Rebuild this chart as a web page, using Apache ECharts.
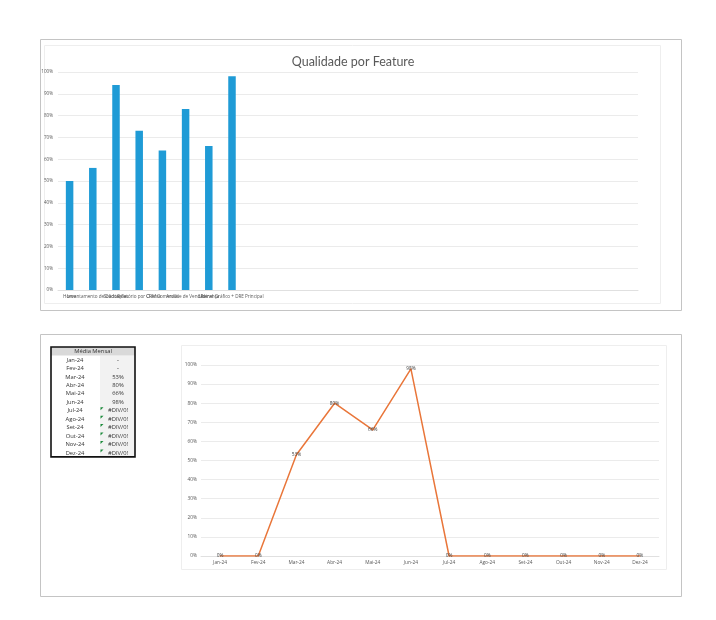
<!DOCTYPE html>
<html>
<head>
<meta charset="utf-8">
<script src="https://cdn.jsdelivr.net/npm/echarts@6/dist/echarts.min.js"></script>
<style>
html,body{margin:0;padding:0;background:#fff;}
#c{width:716px;height:620px;}
</style>
</head>
<body>
<div id="c"></div>
<script>
// ---- Data ----
const featureCategories = [
  "Home", "Levantamento de Dados", "Solicitações", "Relatório por Cliente",
  "CRM Comercial", "Análise de Vendas", "Liderança", "Painel Gráfico + DRE Principal",
  "", "", "", "", "", "", "", "", "", "", "", "", "", "", "", "", ""
];
const featureQuality = [50, 56, 94, 73, 64, 83, 66, 98];
const percentTicks = [0, 10, 20, 30, 40, 50, 60, 70, 80, 90, 100];

const months = ["Jan-24","Fev-24","Mar-24","Abr-24","Mai-24","Jun-24","Jul-24","Ago-24","Set-24","Out-24","Nov-24","Dez-24"];
const monthlyAverage = [0, 0, 53, 80, 66, 98, 0, 0, 0, 0, 0, 0];
const tableValues = ["-", "-", "53%", "80%", "66%", "98%", "#DIV/0!", "#DIV/0!", "#DIV/0!", "#DIV/0!", "#DIV/0!", "#DIV/0!"];
const tableTitle = "Média Mensal";
const chartTitle = "Qualidade por Feature";

// ---- Chart ----
const chart = echarts.init(document.getElementById('c'), null, {renderer: 'canvas'});
const FONT = "'Open Sans', 'Noto Sans', sans-serif";
const axisLblColor = '#595959';
const gridColor = '#ebebeb';

const graphics = [];
// outer frames
graphics.push({type:'rect', shape:{x:40.5,y:39.5,width:641,height:271}, style:{fill:'#fff', stroke:'#c4c4c4', lineWidth:1}, z:-10});
graphics.push({type:'rect', shape:{x:44.5,y:45.5,width:616,height:258}, style:{fill:'#fff', stroke:'#eeeeee', lineWidth:1}, z:-9});
graphics.push({type:'rect', shape:{x:40.5,y:334.5,width:641,height:262}, style:{fill:'#fff', stroke:'#c4c4c4', lineWidth:1}, z:-10});
graphics.push({type:'rect', shape:{x:181.5,y:345.5,width:485,height:224}, style:{fill:'#fff', stroke:'#eeeeee', lineWidth:1}, z:-9});

// table
const tX = 51, tY = 347, tW = 84, rowH = 8.45, headH = 8.5, splitX = 100;
graphics.push({type:'rect', shape:{x:splitX, y:tY+headH, width:tX+tW-splitX, height:rowH*months.length}, style:{fill:'#f2f2f2'}, z:1});
graphics.push({type:'rect', shape:{x:tX, y:tY, width:tW, height:headH}, style:{fill:'#d9d9d9'}, z:1});
graphics.push({type:'text', x:tX+tW/2, y:tY+headH/2+0.3, style:{text:tableTitle, fill:'#333', font:"5.8px " + FONT, align:'center', verticalAlign:'middle'}, z:3});
months.forEach((m,i)=>{
  const cy = tY + headH + rowH*i + rowH/2 + 0.3;
  graphics.push({type:'text', x:75, y:cy, style:{text:m, fill:'#333', font:"5.8px " + FONT, align:'center', verticalAlign:'middle'}, z:3});
  graphics.push({type:'text', x:118, y:cy, style:{text:tableValues[i], fill:'#333', font:"5.8px " + FONT, align:'center', verticalAlign:'middle'}, z:3});
  if (tableValues[i].charAt(0) === '#') {
    const ty = tY + headH + rowH*i + 1;
    graphics.push({type:'polygon', shape:{points:[[100.5,ty],[103.5,ty],[100.5,ty+3]]}, style:{fill:'#1a8a3a'}, z:3});
  }
});
graphics.push({type:'rect', shape:{x:tX, y:tY, width:tW, height:headH+rowH*months.length}, style:{fill:'none', stroke:'#111', lineWidth:1.6}, z:4});

chart.setOption({
  animation: false,
  backgroundColor: '#fff',
  title: {
    text: chartTitle, left: 348, top: 50, textAlign: 'center',
    textStyle: {fontSize: 12.5, fontWeight: 'normal', color: '#595959', fontFamily: "Lato, 'Noto Sans', sans-serif"}
  },
  graphic: graphics,
  grid: [
    {left: 58, right: 78, top: 72, height: 218, containLabel: false},
    {left: 201, right: 57, top: 365, height: 191, containLabel: false}
  ],
  xAxis: [
    {
      gridIndex: 0, type: 'category', data: featureCategories,
      axisLine: {show: true, lineStyle: {color: '#e0e0e0'}},
      axisTick: {show: false},
      axisLabel: {interval: 0, fontSize: 4.6, color: axisLblColor, margin: 4, fontFamily: FONT, hideOverlap: false}
    },
    {
      gridIndex: 1, type: 'category', data: months,
      axisLine: {show: true, lineStyle: {color: '#e0e0e0'}},
      axisTick: {show: false},
      axisLabel: {interval: 0, fontSize: 4.8, color: axisLblColor, margin: 4, fontFamily: FONT}
    }
  ],
  yAxis: [
    {
      gridIndex: 0, type: 'value', min: percentTicks[0], max: percentTicks[percentTicks.length-1], interval: 10,
      axisLine: {show: false}, axisTick: {show: false},
      splitLine: {lineStyle: {color: gridColor, width: 1}},
      axisLabel: {formatter: '{value}%', fontSize: 4.6, color: axisLblColor, margin: 5, fontFamily: FONT}
    },
    {
      gridIndex: 1, type: 'value', min: percentTicks[0], max: percentTicks[percentTicks.length-1], interval: 10,
      axisLine: {show: false}, axisTick: {show: false},
      splitLine: {lineStyle: {color: gridColor, width: 1}},
      axisLabel: {formatter: '{value}%', fontSize: 4.8, color: axisLblColor, margin: 4, fontFamily: FONT}
    }
  ],
  series: [
    {
      type: 'bar', xAxisIndex: 0, yAxisIndex: 0, data: featureQuality,
      barWidth: 7.5, itemStyle: {color: '#1f9bd6'}
    },
    {
      type: 'line', xAxisIndex: 1, yAxisIndex: 1, data: monthlyAverage,
      symbol: 'circle', symbolSize: 1, showSymbol: true,
      lineStyle: {color: '#e9763a', width: 1.5},
      itemStyle: {color: '#e9763a'},
      label: {show: true, position: 'inside', formatter: '{c}%', fontSize: 4.8, color: '#404040', fontFamily: FONT}
    }
  ]
});
</script>
</body>
</html>
